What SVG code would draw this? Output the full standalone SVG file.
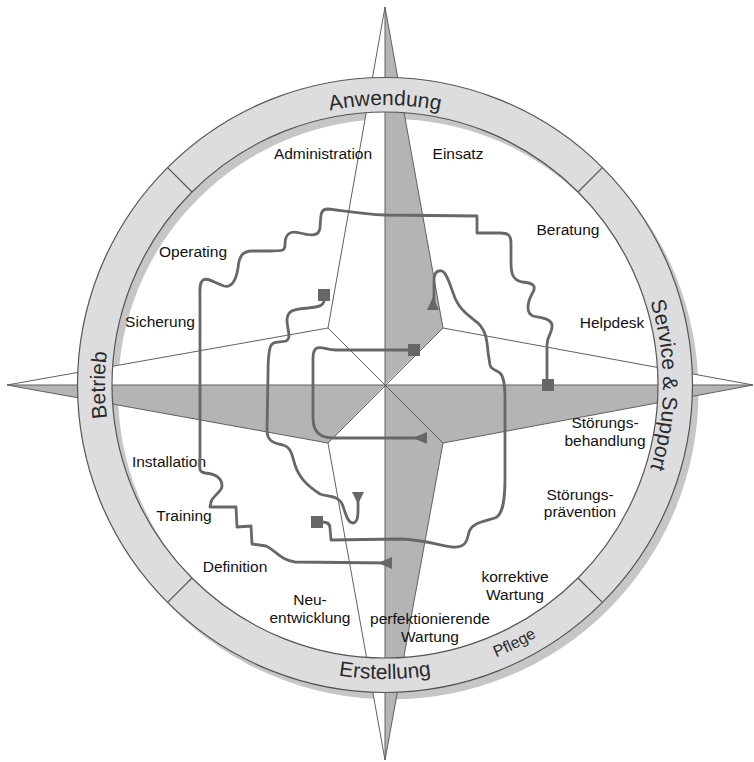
<svg xmlns="http://www.w3.org/2000/svg" width="754" height="762" viewBox="0 0 754 762">
<style>
.lbl{font-family:"Liberation Sans",Arial,sans-serif;font-size:15.5px;fill:#111;text-anchor:middle}
.ringt{font-family:"Liberation Sans",Arial,sans-serif;font-size:21px;fill:#2a2a2a;text-anchor:middle}
.g{fill:#b4b4b6}
.w{fill:#fff}
.edge{stroke:#606060;stroke-width:1;fill:none}
.conn{stroke:#676767;stroke-width:2.8;fill:none;stroke-linejoin:round;stroke-linecap:round}
.mk{fill:#676767}
</style>
<defs>
<path id="arcTop" d="M 105,385 A 280,280 0 0 1 665,385"/>
<path id="arcRight" d="M 385,107 A 278,278 0 0 1 385,663"/>
<path id="arcLeft" d="M 385,665 A 280,280 0 0 1 385,105"/>
<path id="arcBottom" d="M 91,385 A 294,294 0 0 0 679,385"/>
</defs>
<rect width="754" height="762" fill="#fff"/>

<!-- ring shadow -->
<g id="ring-shadow" transform="translate(6,7)">
<path fill="#c6c6c6" fill-rule="evenodd" d="M 77.5,385 A 307.5,307.5 0 1 0 692.5,385 A 307.5,307.5 0 1 0 77.5,385 Z M 112,385 A 273,273 0 1 0 658,385 A 273,273 0 1 0 112,385 Z"/>
</g>

<!-- compass star -->
<g id="compass">
<polygon class="g" points="385,7 443,328 385,385"/>
<polygon class="w" points="385,7 328,328 385,385"/>
<polygon class="g" points="753,385 443,443 385,385"/>
<polygon class="w" points="753,385 443,328 385,385"/>
<polygon class="g" points="385,760 443,443 385,385"/>
<polygon class="w" points="385,760 328,443 385,385"/>
<polygon class="g" points="7,385 328,443 385,385"/>
<polygon class="w" points="7,385 328,328 385,385"/>
<path class="edge" d="M 385,7 L 443,328 L 753,385 L 443,443 L 385,760 L 328,443 L 7,385 L 328,328 Z M 385,7 L 385,760 M 7,385 L 753,385 M 328,328 L 443,443 M 443,328 L 328,443"/>
</g>

<!-- ring -->
<g id="ring">
<path fill="#dddddf" stroke="#555" stroke-width="1.2" fill-rule="evenodd" d="M 77.5,385 A 307.5,307.5 0 1 0 692.5,385 A 307.5,307.5 0 1 0 77.5,385 Z M 112,385 A 273,273 0 1 0 658,385 A 273,273 0 1 0 112,385 Z"/>
<path stroke="#555" stroke-width="1.2" d="M 192,192 L 167.6,167.6 M 578,192 L 602.4,167.6 M 578,578 L 602.4,602.4 M 192,578 L 167.6,602.4"/>
</g>

<g id="seg-anwendung"><text class="ringt"><textPath href="#arcTop" startOffset="50%">Anwendung</textPath></text></g>
<g id="seg-service"><text class="ringt"><textPath href="#arcRight" startOffset="50%">Service &amp; Support</textPath></text></g>
<g id="seg-betrieb"><text class="ringt"><textPath href="#arcLeft" startOffset="50%">Betrieb</textPath></text></g>
<g id="seg-erstellung"><text class="ringt"><textPath href="#arcBottom" startOffset="50%">Erstellung</textPath></text></g>
<g id="seg-pflege"><text class="ringt" style="font-size:16px"><textPath href="#arcBottom" startOffset="64.8%">Pflege</textPath></text></g>

<!-- labels -->
<g id="n-administration"><text class="lbl" x="323" y="159">Administration</text></g>
<g id="n-einsatz"><text class="lbl" x="458" y="159">Einsatz</text></g>
<g id="n-beratung"><text class="lbl" x="568" y="235">Beratung</text></g>
<g id="n-helpdesk"><text class="lbl" x="612" y="328">Helpdesk</text></g>
<g id="n-stoerungsbehandlung"><text class="lbl" x="605" y="428">Störungs-</text><text class="lbl" x="605" y="446">behandlung</text></g>
<g id="n-stoerungspraevention"><text class="lbl" x="580" y="500">Störungs-</text><text class="lbl" x="580" y="517">prävention</text></g>
<g id="n-korrektive"><text class="lbl" x="515" y="582">korrektive</text><text class="lbl" x="515" y="600">Wartung</text></g>
<g id="n-perfektionierende"><text class="lbl" x="430" y="624">perfektionierende</text><text class="lbl" x="430" y="642">Wartung</text></g>
<g id="n-neuentwicklung"><text class="lbl" x="310" y="605">Neu-</text><text class="lbl" x="310" y="623">entwicklung</text></g>
<g id="n-definition"><text class="lbl" x="235" y="572">Definition</text></g>
<g id="n-training"><text class="lbl" x="184" y="521">Training</text></g>
<g id="n-installation"><text class="lbl" x="169" y="467">Installation</text></g>
<g id="n-sicherung"><text class="lbl" x="160" y="327">Sicherung</text></g>
<g id="n-operating"><text class="lbl" x="193" y="257">Operating</text></g>

<!-- connectors -->
<g id="connectors">
<path class="conn" d="M 547,380 L 547,345 C 547,335 553,333 552,325 C 551,318 540,318 533,316 C 526,313 527,303 532,294 C 537,286 534,283 522,282 C 512,280 511,272 511,262 L 511,243 C 511,235 508,233 500,233 L 477,233 L 477,216 L 385,215 C 360,214 340,210 328,209 C 320,209 321,215 320,228 C 319,236 312,236 300,233 C 290,230 285,234 285,245 C 285,251 282,251 270,251 L 252,251 C 242,251 239,257 238,268 C 236,280 232,288 224,286 C 214,283 208,277 203,280 C 199,283 200,290 200,300 L 200,455 C 200,468 198,472 205,473 C 216,474 222,478 222,486 C 222,492 213,495 211,502 L 210,507 L 236,507 L 237,527 L 251,526 L 252,544 L 266,546 C 275,550 282,561 295,562 L 388,563"/>
<rect class="mk" x="542" y="379" width="12" height="12"/>
<polygon class="mk" points="378,563 392,557 392,569"/>

<path class="conn" d="M 414,350 L 336,350 C 326,350 322,346 317,348 C 313,350 313,355 313,362 L 313,418 C 313,430 318,438 333,438 L 420,438"/>
<rect class="mk" x="408" y="344" width="12" height="12"/>
<polygon class="mk" points="413,438 427,432 427,444"/>

<path class="conn" d="M 434,305 L 434,280 C 434,272 438,270 442,271 C 447,273 450,285 455,298 C 460,310 470,317 478,323 C 486,331 487,340 488,352 L 490,365 C 491,370 497,370 500,373 C 504,377 505,385 505,400 L 505,478 C 505,500 503,515 495,518 C 482,522 472,523 469,532 C 467,542 465,548 452,547 C 440,546 428,540 400,539 L 331,540 L 330,528 C 330,524 327,522 322,522"/>
<polygon class="mk" points="433,297 427,310 439,310"/>
<rect class="mk" x="311" y="516" width="12" height="12"/>

<path class="conn" d="M 324,300 C 324,306 318,307 308,308 C 295,309 287,310 287,320 C 287,330 292,338 286,341 C 279,343 272,340 270,348 C 268,356 268,365 268,375 L 267,430 C 267,440 272,443 283,445 C 291,447 292,455 295,465 C 299,477 306,485 320,494 C 327,497 336,495 341,502 C 345,508 346,523 353,523 C 359,522 358,512 358,500"/>
<rect class="mk" x="318" y="289" width="12" height="12"/>
<polygon class="mk" points="352,492 364,492 358,504"/>
</g>
</svg>
